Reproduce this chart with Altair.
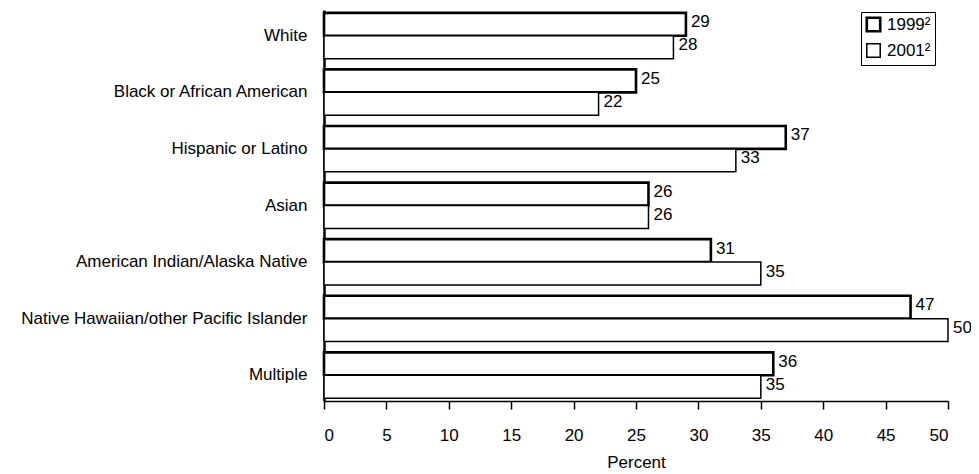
import altair as alt
import pandas as pd

categories = ["White", "Black or African American", "Hispanic or Latino", "Asian",
              "American Indian/Alaska Native", "Native Hawaiian/other Pacific Islander", "Multiple"]
years = ["1999", "2001"]
values_1999 = [29, 25, 37, 26, 31, 47, 36]
values_2001 = [28, 22, 33, 26, 35, 50, 35]
x_ticks = [0, 5, 10, 15, 20, 25, 30, 35, 40, 45, 50]

rows = []
for c, a, b in zip(categories, values_1999, values_2001):
    rows.append({"group": c, "year": "1999", "pct": a})
    rows.append({"group": c, "year": "2001", "pct": b})
df = pd.DataFrame(rows)

FONT = "Liberation Sans"

y_enc = alt.Y("group:N", sort=categories,
              scale=alt.Scale(paddingInner=0.19, paddingOuter=0.05),
              axis=alt.Axis(title=None, ticks=False, labelFontSize=17, labelFont=FONT,
                            labelColor="black", labelPadding=17, domainColor="black",
                            domainWidth=2.5, labelLimit=400))
yoff = alt.YOffset("year:N", sort=years)
x_enc = alt.X("pct:Q", scale=alt.Scale(domain=[0, 50], nice=False),
              axis=alt.Axis(title="Percent", values=x_ticks, grid=False, format="d",
                            domainColor="black", domainWidth=1.5, tickColor="black",
                            tickSize=8, tickWidth=1.5, labelFontSize=17, labelFont=FONT,
                            labelColor="black", labelPadding=18, titleFontSize=17,
                            titleFont=FONT, titleFontWeight="normal", titleColor="black",
                            titlePadding=11))

leg = alt.Legend(title=None, labelExpr="datum.label + '²'")

bars = alt.Chart(df).mark_bar().encode(
    x=x_enc,
    y=y_enc,
    yOffset=yoff,
    fill=alt.Fill("year:N", sort=years, legend=leg,
                  scale=alt.Scale(domain=years, range=["white", "white"])),
    stroke=alt.Stroke("year:N", sort=years, legend=leg,
                      scale=alt.Scale(domain=years, range=["black", "black"])),
    strokeWidth=alt.StrokeWidth("year:N", sort=years, legend=leg,
                                scale=alt.Scale(domain=years, range=[2.6, 1.5])),
)

labels = alt.Chart(df).mark_text(align="left", baseline="middle", dx=5, dy=-2,
                                 fontSize=17, font=FONT, color="black").encode(
    x=alt.X("pct:Q"),
    y=alt.Y("group:N", sort=categories),
    yOffset=yoff,
    text=alt.Text("pct:Q"),
)

chart = alt.layer(bars, labels).properties(
    width=624, height=391,
    autosize=alt.AutoSizeParams(type="none"),
    padding={"left": 316, "top": 2, "right": 23, "bottom": 73},
).configure_view(stroke=None).configure_legend(
    orient="none", legendX=537, legendY=2, strokeColor="black", padding=4,
    symbolType="square", symbolSize=180, labelOffset=5,
    labelFontSize=17, labelFont=FONT, labelColor="black", rowPadding=3,
)

chart.save("out.html", embed_options={"renderer": "svg", "actions": False})
